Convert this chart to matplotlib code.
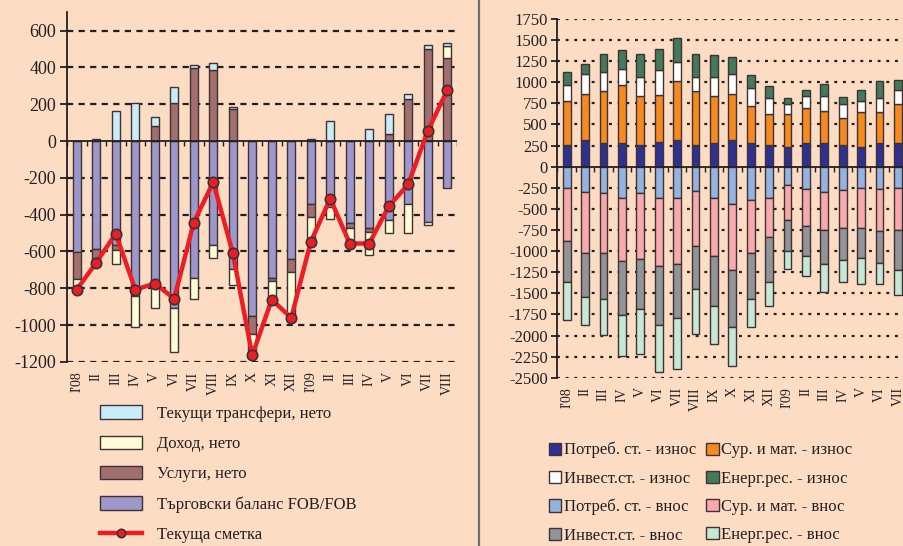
import matplotlib
matplotlib.use("Agg")
import matplotlib.pyplot as plt
from matplotlib.patches import Patch
from matplotlib.lines import Line2D
import numpy as np

plt.rcParams['font.family'] = ['Liberation Serif', 'DejaVu Serif']

# ---- data: left chart (current account components)
months = ["I'08", "II", "III", "IV", "V", "VI", "VII", "VIII", "IX", "X", "XI", "XII",
          "I'09", "II", "III", "IV", "V", "VI", "VII", "VIII"]
trade = [-603, -585, -567, -800, -796, -910, -744, -563, -693, -950, -744, -639,
         -340, -358, -445, -472, -431, -340, -440, -255]
services = [-148, -55, -27, -40, 82, 205, 395, 387, 176, -100, -16, -72,
            -73, 0, -27, -22, 40, 231, 500, 451]
income = [-50, -25, -76, -170, -111, -236, -114, -72, -91, -105, -100, -248,
          -144, -67, -85, -127, -67, -158, -14, 64]
transfers = [0, 10, 164, 205, 51, 91, 18, 35, 8, 0, 0, 0,
             12, 109, 0, 67, 109, 24, 22, 20]
current = [-807, -661, -503, -807, -775, -856, -443, -223, -608, -1164, -862, -961,
           -548, -313, -557, -557, -355, -235, 55, 276]

# ---- data: right chart (exports / imports by group)
exp_cons = [255, 318, 286, 286, 255, 298, 314, 255, 286, 318, 286, 255, 235, 286, 286, 255, 235, 286, 286, 290]
exp_raw = [521, 545, 609, 677, 588, 557, 696, 640, 557, 545, 438, 370, 390, 410, 370, 322, 409, 358, 458, 470]
exp_inv = [187, 239, 227, 198, 219, 295, 231, 167, 219, 239, 207, 186, 119, 147, 187, 167, 140, 167, 159, 170]
exp_en = [159, 119, 218, 227, 278, 250, 278, 278, 259, 199, 151, 140, 71, 60, 139, 87, 119, 203, 127, 130]
imp_cons = [-256, -300, -310, -365, -310, -365, -365, -282, -365, -441, -389, -365,
            -222, -262, -295, -278, -250, -270, -258, -265]
imp_raw = [-630, -725, -715, -752, -779, -811, -792, -656, -692, -783, -628, -469,
           -410, -438, -452, -453, -481, -497, -493, -515]
imp_inv = [-481, -521, -537, -636, -592, -696, -636, -509, -589, -680, -545, -532,
           -366, -357, -410, -374, -346, -370, -473, -430]
imp_en = [-445, -334, -429, -485, -541, -556, -604, -536, -456, -453, -342, -290,
          -210, -239, -326, -258, -318, -258, -302, -300]

bg = '#FDDCC4'
ink = '#231F20'
edge = '#3b3335'

fig = plt.figure(figsize=(9.04, 5.46), dpi=100, facecolor=bg)


def stack(ax, x, series, colors, width):
    pos = np.zeros(len(x))
    neg = np.zeros(len(x))
    for vals, col in zip(series, colors):
        v = np.array(vals, dtype=float)
        bottom = np.where(v >= 0, pos, neg)
        ax.bar(x, v, width, bottom=bottom, color=col, edgecolor=edge, linewidth=1.0, zorder=3)
        pos = pos + np.where(v >= 0, v, 0)
        neg = neg + np.where(v < 0, v, 0)


def style_axis(ax, yticks, grid_dash, tick_len):
    ax.set_facecolor(bg)
    for s in ['top', 'right', 'bottom']:
        ax.spines[s].set_visible(False)
    ax.spines['left'].set_color(ink)
    ax.spines['left'].set_linewidth(1.3)
    ax.set_yticks(yticks)
    ax.tick_params(axis='y', direction='out', length=tick_len, width=1.3, color=ink,
                   labelcolor=ink, pad=3)
    ax.tick_params(axis='x', length=0, labelcolor=ink, pad=7, labelsize=10)
    for t in yticks:
        if t != 0:
            ax.axhline(t, color=ink, lw=1.6, dashes=grid_dash, zorder=1)
    ax.axhline(0, color=ink, lw=1.3, zorder=4)


# ---------------- left chart
x = np.arange(len(months))
axl = fig.add_axes([67 / 904, 1 - 361.8 / 546, 390 / 904, (361.8 - 12.3) / 546])
stack(axl, x, [trade, services, income, transfers],
      ['#9D97CB', '#A26F6F', '#FFFBD6', '#C8ECF8'], 0.42)
axl.plot(x, current, color='#EE1C25', lw=3.2, marker='o', ms=7.5,
         mfc='#EE1C25', mec=edge, mew=1.2, zorder=6)
axl.set_xlim(-0.5, len(months) - 0.5)
axl.set_ylim(-1200, 700)
style_axis(axl, np.arange(-1200, 601, 200), (2.8, 2.4), 5)
axl.vlines(np.arange(-0.5, len(months)), -25, 0, color=ink, lw=1.0, zorder=4)
axl.set_xticks(x)
axl.set_xticklabels(months, rotation=90)
axl.set_yticklabels([str(v) for v in np.arange(-1200, 601, 200)], fontsize=13)

hl = [Patch(facecolor='#C8ECF8', edgecolor=edge),
      Patch(facecolor='#FFFBD6', edgecolor=edge),
      Patch(facecolor='#A26F6F', edgecolor=edge),
      Patch(facecolor='#9D97CB', edgecolor=edge),
      Line2D([], [], color='#EE1C25', lw=3.2, marker='o', ms=6, mfc='#EE1C25', mec=edge, mew=1.2)]
ll = ['Текущи трансфери, нето', 'Доход, нето', 'Услуги, нето',
      'Търговски баланс FOB/FOB', 'Текуща сметка']
fig.legend(hl, ll, loc='upper left', bbox_to_anchor=(100 / 904, 1 - 405.5 / 546),
           frameon=False, fontsize=12, handlelength=2.5, handleheight=0.85,
           handletextpad=0.9, labelspacing=0.83, borderpad=0, borderaxespad=0,
           labelcolor=ink)

# ---------------- right chart
axr = fig.add_axes([557.5 / 904, 1 - 377.7 / 546, 368 / 904, (377.7 - 19) / 546])
colors_r = ['#2E3192', '#F7891F', '#FFFFFF', '#447A59',
            '#95B3E0', '#F7A9AC', '#929497', '#C6E7D4']
stack(axr, x, [exp_cons, exp_raw, exp_inv, exp_en, imp_cons, imp_raw, imp_inv, imp_en],
      colors_r, 0.43)
axr.set_xlim(-0.5, len(months) - 0.5)
axr.set_ylim(-2500, 1750)
style_axis(axr, np.arange(-2500, 1751, 250), (1.3, 2.6), 4)
axr.vlines(np.arange(-0.5, len(months)), -60, 0, color=ink, lw=1.0, zorder=4)
axr.set_xticks(x)
axr.set_xticklabels(months, rotation=90)
axr.set_yticklabels([str(v) for v in np.arange(-2500, 1751, 250)], fontsize=12)

names = ['Потреб. ст. - износ', 'Сур. и мат. - износ', 'Инвест.ст. - износ', 'Енерг.рес. - износ',
         'Потреб. ст. - внос', 'Сур. и мат. - внос', 'Инвест.ст. - внос', 'Енерг.рес. - внос']
order = [0, 2, 4, 6, 1, 3, 5, 7]
hr = [Patch(facecolor=colors_r[i], edgecolor=edge) for i in order]
lr = [names[i] for i in order]
fig.legend(hr, lr, loc='upper left', bbox_to_anchor=(549 / 904, 1 - 442 / 546), ncol=2,
           frameon=False, fontsize=12, handlelength=0.75, handleheight=0.75,
           handletextpad=0.15, labelspacing=0.73, columnspacing=0.6,
           borderpad=0, borderaxespad=0, labelcolor=ink)

fig.add_artist(Line2D([479 / 904, 479 / 904], [0, 1], transform=fig.transFigure,
                      color='#6D6E70', lw=1.6))

fig.savefig('out.png', dpi=100, facecolor=bg)
